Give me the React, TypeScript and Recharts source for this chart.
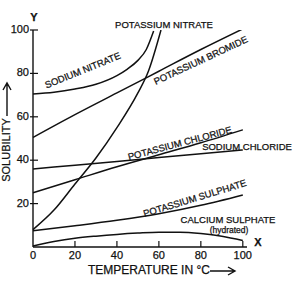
import { LineChart, Line, XAxis, YAxis } from 'recharts'

// temperature (°C) / solubility readings per salt
const sodiumNitrateT = [0, 10, 20, 30, 40, 45, 50, 54, 57.5]
const sodiumNitrate = [70.5, 71.3, 72.8, 75, 79, 82, 86, 91, 99.5]

const potassiumNitrateT = [0, 10, 20, 30, 40, 50, 55, 61]
const potassiumNitrate = [8, 17, 29, 41, 55, 71, 81, 100]

const tempsEven = [0, 20, 40, 60, 80, 100]
const potassiumBromide = [50.5, 61, 71, 81, 91, 100.5]
const potassiumChloride = [25, 31, 37, 42.5, 48, 54]
const sodiumChloride = [36, 37.7, 39.4, 41.2, 43, 44.7]
const potassiumSulphate = [7.5, 9.8, 12.3, 15.3, 19.2, 24]

const calciumSulphateT = [0, 10, 20, 30, 40, 50, 60, 70, 80, 90, 100]
const calciumSulphate = [0.5, 2.5, 4, 5, 5.8, 6.4, 6.8, 6.8, 6.2, 5, 3]

const xTicks = [0, 20, 40, 60, 80, 100]
const yTicks = [20, 40, 60, 80, 100]

const zip = (ts: number[], vs: number[]) => ts.map((t, i) => ({ t, v: vs[i] }))

const SERIES = [
  { key: 'nano3', data: zip(sodiumNitrateT, sodiumNitrate) },
  { key: 'kno3', data: zip(potassiumNitrateT, potassiumNitrate) },
  { key: 'kbr', data: zip(tempsEven, potassiumBromide) },
  { key: 'kcl', data: zip(tempsEven, potassiumChloride) },
  { key: 'nacl', data: zip(tempsEven, sodiumChloride) },
  { key: 'k2so4', data: zip(tempsEven, potassiumSulphate) },
  { key: 'caso4', data: zip(calciumSulphateT, calciumSulphate) },
]

const FONT = '"Liberation Sans", Arial, Helvetica, sans-serif'
const INK = '#111'
// scanned print looks a bit heavier than regular weight
const TXT = { fontFamily: FONT, fill: INK, stroke: INK, strokeWidth: 0.25 }

// curve captions: [text, cx, cy, angle, size]
const CAPTIONS: [string, number, number, number, number][] = [
  ['POTASSIUM  NITRATE', 164, 25, 0, 9.5],
  ['SODIUM NITRATE', 83, 71, -22, 9.5],
  ['POTASSIUM BROMIDE', 201, 61, -25, 9.5],
  ['POTASSIUM  CHLORIDE', 180, 144, -15, 9.5],
  ['SODIUM CHLORIDE', 247, 147, 0, 9.5],
  ['POTASSIUM  SULPHATE', 195, 199, -17, 9.5],
  ['CALCIUM  SULPHATE', 228, 220, 0, 9.5],
  ['(hydrated)', 229, 231, 0, 8.5],
]

function XTick({ x, y, payload }: any) {
  return (
    <g>
      {payload.value > 0 && <line x1={x} x2={x} y1={y - 6} y2={y} stroke={INK} strokeWidth={1.2} />}
      <text x={x} y={y + 9} textAnchor="middle" dominantBaseline="middle" fontSize={11} {...TXT}>
        {payload.value}
      </text>
    </g>
  )
}

function YTick({ x, y, payload }: any) {
  return (
    <g>
      <line x1={x - 3} x2={x + 5} y1={y} y2={y} stroke={INK} strokeWidth={1.2} />
      <text x={x - 4} y={y} textAnchor="end" dominantBaseline="middle" fontSize={11} {...TXT}>
        {payload.value}
      </text>
    </g>
  )
}

export default function App() {
  return (
    <div style={{ position: 'absolute', left: 0, top: 0, background: '#fff' }}>
      <LineChart width={299} height={282} margin={{ top: 30, right: 52, bottom: 0, left: 0 }}>
        <XAxis
          dataKey="t" type="number" domain={[0, 102]} ticks={xTicks}
          height={35} tickSize={0} tickMargin={0} tick={<XTick />}
          axisLine={{ stroke: INK, strokeWidth: 1.4 }} allowDuplicatedCategory={false}
        />
        <YAxis
          type="number" domain={[0, 100]} ticks={yTicks} allowDataOverflow
          width={33} tickSize={0} tickMargin={0} tick={<YTick />}
          axisLine={{ stroke: INK, strokeWidth: 1.4 }}
        />
        {SERIES.map(s => (
          <Line
            key={s.key} data={s.data} dataKey="v" type="monotone"
            stroke={INK} strokeWidth={1.5} dot={false} activeDot={false}
            isAnimationActive={false}
          />
        ))}
        {CAPTIONS.map(([t, cx, cy, a, fs]) => (
          <text
            key={t} x={cx} y={cy} textAnchor="middle" dominantBaseline="middle"
            transform={`rotate(${a} ${cx} ${cy})`} fontSize={fs} {...TXT}
          >{t}</text>
        ))}
        <text x={34} y={18} textAnchor="middle" dominantBaseline="middle" fontSize={11} fontWeight="bold" {...TXT}>Y</text>
        <text x={258} y={243} textAnchor="middle" dominantBaseline="middle" fontSize={11} fontWeight="bold" {...TXT}>X</text>
        <text x={88} y={271} dominantBaseline="middle" fontSize={12} {...TXT}>TEMPERATURE IN °C</text>
        <path d="M210 271 H234 M228 267 L235 271 L228 275" fill="none" stroke={INK} strokeWidth={1.4} />
        <text
          x={7} y={150} textAnchor="middle" dominantBaseline="middle" transform="rotate(-90 7 150)"
          fontSize={11} {...TXT}
        >SOLUBILITY</text>
        <path d="M7 116 V84 M3 90 L7 83 L11 90" fill="none" stroke={INK} strokeWidth={1.4} />
      </LineChart>
    </div>
  )
}
